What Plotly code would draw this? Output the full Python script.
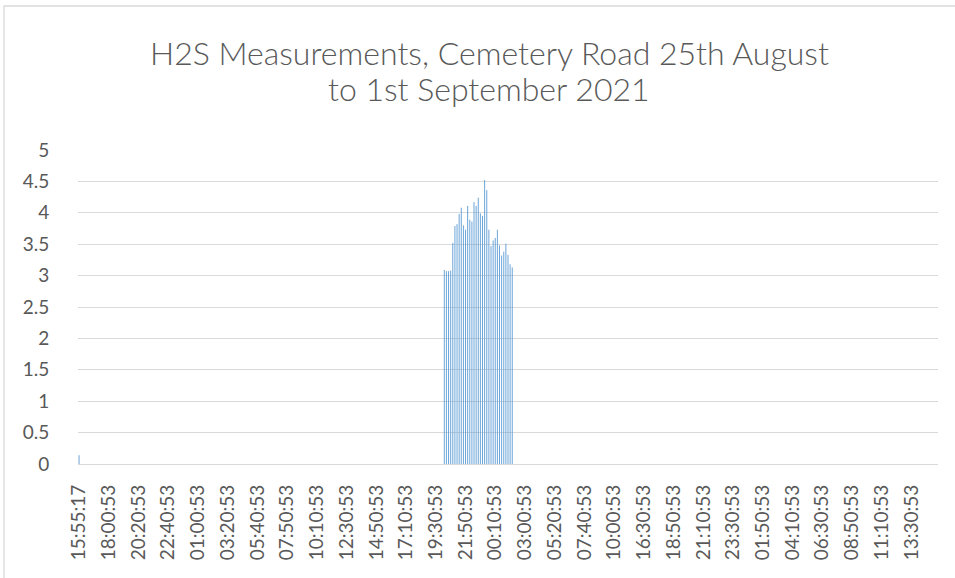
"""H2S measurements bar chart, Cemetery Road, 25th August to 1st September 2021"""
import plotly.graph_objects as go

# Tick labels shown on the category axis (one label every 14 readings)
tick_labels = ['15:55:17', '18:00:53', '20:20:53', '22:40:53', '01:00:53', '03:20:53',
               '05:40:53', '07:50:53', '10:10:53', '12:30:53', '14:50:53', '17:10:53',
               '19:30:53', '21:50:53', '00:10:53', '03:00:53', '05:20:53', '07:40:53',
               '10:00:53', '16:30:53', '18:50:53', '21:10:53', '23:30:53', '01:50:53',
               '04:10:53', '06:30:53', '08:50:53', '11:10:53', '13:30:53']
label_step = 14

# Readings (10 minute logger), all zero apart from the first one and the evening peak
n_readings = 405
first_reading = 0.14
peak_start = 172
peak_values = [3.09, 3.07, 3.07, 3.08, 3.52, 3.79, 3.82, 3.98, 4.08, 3.80, 3.73,
               4.11, 3.89, 3.86, 4.17, 4.11, 4.24, 3.99, 3.95, 4.52, 4.36, 3.73,
               3.47, 3.56, 3.60, 3.73, 3.48, 3.32, 3.38, 3.51, 3.33, 3.18, 3.13]

title_lines = ['H2S Measurements, Cemetery Road 25th August', 'to 1st September 2021']

readings = [0.0] * n_readings
readings[0] = first_reading
readings[peak_start:peak_start + len(peak_values)] = peak_values

# Plot area margins in pixels
m_l, m_r, m_t, m_b = 78, 17, 150, 114
W, H = 955, 578
plot_w = W - m_l - m_r
plot_h = H - m_t - m_b


def px_x(px):
    """page pixel -> paper x"""
    return (px - m_l) / plot_w


def px_y(px):
    """page pixel (from top) -> paper y"""
    return (H - m_b - px) / plot_h


# Columns are only ~1px wide, so draw each one as a thin vertical stroke
# (plotly widens sub-2px bars so they would merge together)
col_x, col_y = [], []
for i, v in enumerate(readings):
    if v > 0:
        col_x += [i, i, None]
        col_y += [0, v, None]

fig = go.Figure()
fig.add_trace(go.Scatter(x=col_x, y=col_y, mode='lines',
                         line=dict(color='#5B9BD5', width=0.9),
                         name='H2S', hoverinfo='skip'))

grey = '#595959'
title_font = dict(family='Lato', size=32, color=grey, weight=300)
fig.update_layout(
    width=W, height=H,
    margin=dict(l=m_l, r=m_r, t=m_t, b=m_b),
    paper_bgcolor='white', plot_bgcolor='white',
    showlegend=False,
    font=dict(family='Lato', color=grey),
    annotations=[
        dict(text=title_lines[0], xref='paper', yref='paper',
             x=px_x(489), y=px_y(52), xanchor='center', yanchor='middle',
             showarrow=False, font=title_font),
        dict(text=title_lines[1], xref='paper', yref='paper',
             x=px_x(489), y=px_y(89), xanchor='center', yanchor='middle',
             showarrow=False, font=title_font),
    ],
    xaxis=dict(range=[-0.5, n_readings - 0.5],
               tickmode='array',
               tickvals=[i * label_step for i in range(len(tick_labels))],
               ticktext=tick_labels,
               tickangle=-90,
               tickfont=dict(size=19, color=grey),
               ticks='outside', ticklen=12, tickcolor='rgba(0,0,0,0)',
               showgrid=False, zeroline=False, automargin=False,
               showline=True, linecolor='#D9D9D9', linewidth=1.3),
    yaxis=dict(range=[0, 5], dtick=0.5,
               tickfont=dict(size=19, color=grey),
               ticks='outside', ticklen=24, tickcolor='rgba(0,0,0,0)',
               showgrid=True, gridcolor='#D9D9D9', gridwidth=1.3,
               zeroline=False, showline=False, automargin=False),
    # chart area border (left and top edges visible in the crop)
    shapes=[dict(type='rect', xref='paper', yref='paper',
                 x0=px_x(4), x1=px_x(W + 10),
                 y0=px_y(H + 10), y1=px_y(6),
                 line=dict(color='#D9D9D9', width=1.3), layer='below')],
)

# drop the default 8px page margin so the figure fills the window exactly
fig.write_html("out.html", config={'displayModeBar': False},
               post_script="document.body.style.margin='0';")
